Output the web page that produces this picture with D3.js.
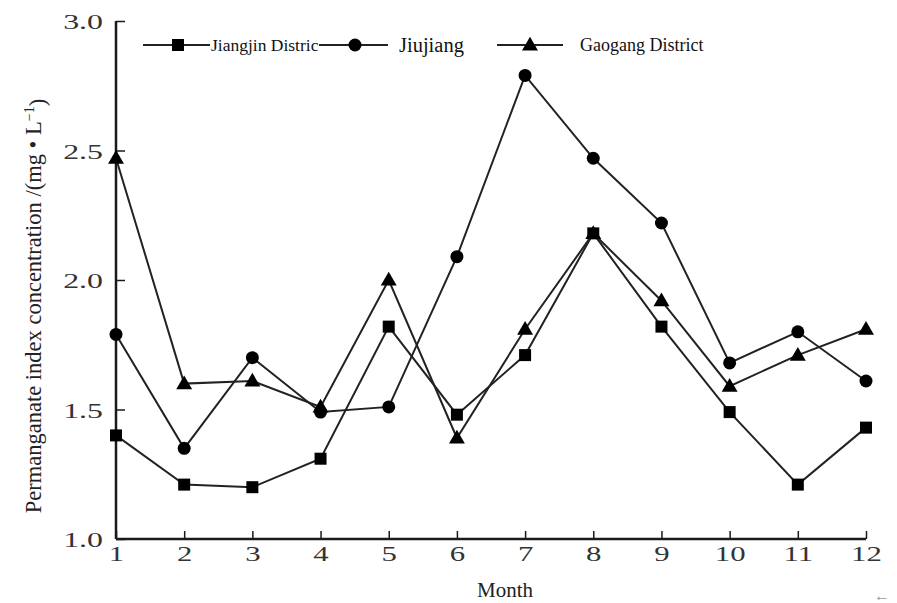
<!DOCTYPE html>
<html>
<head lang="en">
<meta charset="UTF-8">
<title>Permanganate index</title>
<style>
  body { margin: 0; background: #fff; }
  text { font-family: "Liberation Serif", "Times New Roman", serif; }
</style>
</head>
<body>
<div id="chart"></div>
<script src="https://cdnjs.cloudflare.com/ajax/libs/d3/7.8.5/d3.min.js"></script>
<script>
// months and series
var months = [1, 2, 3, 4, 5, 6, 7, 8, 9, 10, 11, 12];
var jiangjin = [1.40, 1.21, 1.20, 1.31, 1.82, 1.48, 1.71, 2.18, 1.82, 1.49, 1.21, 1.43];
var jiujiang = [1.79, 1.35, 1.70, 1.49, 1.51, 2.09, 2.79, 2.47, 2.22, 1.68, 1.80, 1.61];
var gaogang  = [2.47, 1.60, 1.61, 1.51, 2.00, 1.39, 1.81, 2.18, 1.92, 1.59, 1.71, 1.81];
var yTicks = [1.0, 1.5, 2.0, 2.5, 3.0];
var seriesNames = ["Jiangjin Distric", "Jiujiang", "Gaogang District"];

var width = 897, height = 603;
var margin = {top: 21, right: 31, bottom: 64, left: 116};

var svg = d3.select("#chart").append("svg")
    .attr("width", width)
    .attr("height", height);

var x = d3.scaleLinear().domain([1, 12]).range([margin.left, width - margin.right]);
var y = d3.scaleLinear().domain([1, 3]).range([height - margin.bottom, margin.top]);

var ink = "#1a1a1a";

// x axis, ticks pointing inward
var xAxis = svg.append("g")
    .attr("transform", "translate(0," + y(1) + ")")
    .call(d3.axisTop(x).tickValues(months).tickSize(8).tickFormat(""));
xAxis.select(".domain").attr("d", "M" + x(1) + ",0H" + x(12)).attr("stroke", ink).attr("stroke-width", 2.5);
xAxis.selectAll(".tick line").attr("stroke", ink).attr("stroke-width", 1.5);
xAxis.selectAll(".tick").append("text")
    .attr("transform", "translate(0,22) scale(1.4,1)")
    .attr("text-anchor", "middle")
    .attr("fill", "#333")
    .style("font-size", "22px")
    .text(function (d) { return d; });

// y axis
var yAxis = svg.append("g")
    .attr("transform", "translate(" + x(1) + ",0)")
    .call(d3.axisRight(y).tickValues(yTicks).tickSize(9).tickFormat(""));
yAxis.select(".domain").attr("d", "M0," + y(1) + "V" + y(3)).attr("stroke", ink).attr("stroke-width", 2.5);
yAxis.selectAll(".tick line").attr("stroke", ink).attr("stroke-width", 1.5);
yAxis.selectAll(".tick").append("text")
    .attr("transform", "translate(-13,0) scale(1.45,1)")
    .attr("dy", "0.35em")
    .attr("text-anchor", "end")
    .attr("fill", "#333")
    .style("font-size", "22px")
    .text(function (d) { return d3.format(".1f")(d); });

// axis titles
svg.append("text")
    .attr("x", 505).attr("y", 597)
    .attr("text-anchor", "middle")
    .attr("fill", "#222")
    .style("font-size", "21px")
    .text("Month");

var yTitle = svg.append("text")
    .attr("transform", "translate(41,306) rotate(-90)")
    .attr("text-anchor", "middle")
    .attr("fill", "#222")
    .style("font-size", "22.5px");
yTitle.append("tspan").text("Permanganate index concentration /(mg \u2022 L");
yTitle.append("tspan").attr("dy", "-0.5em").style("font-size", "14px").text("\u22121");
yTitle.append("tspan").attr("dy", "0.5em").text(")");

// markers
function drawMarker(g, kind, cx, cy) {
    if (kind === 0) {
        g.append("rect").attr("x", cx - 6).attr("y", cy - 6).attr("width", 12).attr("height", 12).attr("fill", "#000");
    } else if (kind === 1) {
        g.append("circle").attr("cx", cx).attr("cy", cy).attr("r", 6.5).attr("fill", "#000");
    } else {
        g.append("path").attr("d", d3.symbol().type(d3.symbolTriangle).size(110)()).attr("transform", "translate(" + cx + "," + (cy + 1) + ")").attr("fill", "#000");
    }
}

var allSeries = [jiangjin, jiujiang, gaogang];
var line = d3.line()
    .x(function (d, i) { return x(months[i]); })
    .y(function (d) { return y(d); });

allSeries.forEach(function (s, k) {
    var g = svg.append("g");
    g.append("path")
        .attr("d", line(s))
        .attr("fill", "none")
        .attr("stroke", "#222")
        .attr("stroke-width", 2);
    s.forEach(function (v, i) { drawMarker(g, k, x(months[i]), y(v)); });
});

// legend
var legY = 45;
var legend = svg.append("g");
var legItems = [
    {x1: 143, x2: 210, mx: 178, tx: 211, fs: 17.5},
    {x1: 319, x2: 388, mx: 355, tx: 399, fs: 20.5},
    {x1: 497, x2: 563, mx: 530, tx: 580, fs: 18}
];
legItems.forEach(function (it, k) {
    legend.append("line")
        .attr("x1", it.x1).attr("x2", it.x2)
        .attr("y1", legY).attr("y2", legY)
        .attr("stroke", "#222").attr("stroke-width", 2);
    drawMarker(legend, k, it.mx, legY);
    legend.append("text")
        .attr("x", it.tx).attr("y", legY)
        .attr("dy", "0.35em")
        .attr("fill", "#111")
        .style("font-size", it.fs + "px")
        .text(seriesNames[k]);
});

svg.append("text")
    .attr("x", 882).attr("y", 601)
    .attr("text-anchor", "middle")
    .attr("fill", "#999")
    .style("font-size", "16px")
    .text("\u2190");
</script>
</body>
</html>
